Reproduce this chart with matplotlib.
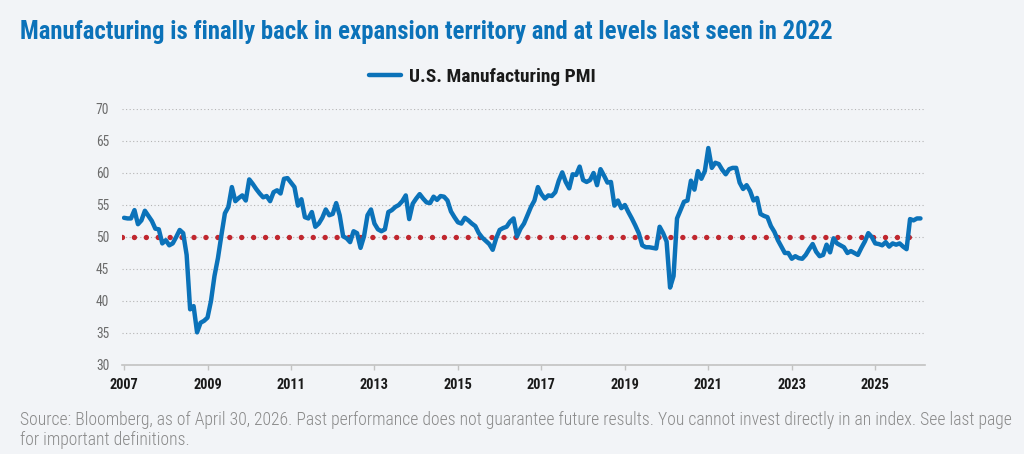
import matplotlib
matplotlib.use("Agg")
import matplotlib.pyplot as plt
from matplotlib import font_manager
import numpy as np

# monthly U.S. Manufacturing PMI
pmi = [
    53.0, 52.9, 52.9, 54.2, 52.0, 52.6, 54.1, 53.3, 52.5, 51.3,
    51.2, 49.0, 49.5, 48.7, 49.0, 50.0, 51.1, 50.6, 47.2, 38.7,
    39.2, 35.1, 36.6, 36.9, 37.4, 40.0, 43.9, 46.7, 50.3, 53.7,
    54.7, 57.8, 55.6, 56.1, 56.5, 55.7, 59.0, 58.3, 57.5, 56.8,
    56.2, 56.4, 55.6, 57.0, 57.3, 56.8, 59.1, 59.2, 58.5, 57.8,
    54.9, 55.9, 53.1, 52.9, 53.9, 51.6, 52.1, 53.0, 54.3, 53.4,
    53.6, 55.3, 53.4, 50.1, 49.8, 49.2, 50.9, 50.6, 48.3, 50.1,
    53.4, 54.3, 52.1, 51.2, 50.9, 51.2, 53.9, 54.2, 54.7, 55.0,
    55.6, 56.5, 52.8, 55.2, 56.0, 56.7, 56.0, 55.4, 55.3, 56.3,
    55.8, 56.4, 56.3, 55.7, 54.0, 53.1, 52.3, 52.1, 53.0, 52.6,
    52.1, 51.7, 50.6, 49.9, 49.4, 48.9, 48.0, 49.8, 51.1, 51.4,
    51.6, 52.4, 52.9, 50.1, 51.3, 52.1, 53.4, 54.7, 55.7, 57.8,
    56.7, 56.0, 56.5, 56.4, 57.0, 58.8, 60.1, 58.6, 57.6, 59.8,
    59.7, 61.0, 58.9, 58.6, 58.9, 60.0, 58.1, 60.6, 59.6, 58.5,
    58.6, 54.9, 55.7, 54.5, 55.0, 53.9, 52.9, 51.8, 50.6, 48.7,
    48.4, 48.4, 48.3, 48.2, 51.6, 50.6, 49.3, 42.1, 43.9, 52.9,
    54.2, 55.5, 55.7, 58.8, 57.4, 60.3, 59.1, 60.3, 63.9, 60.8,
    61.6, 61.4, 60.5, 59.8, 60.6, 60.8, 60.8, 58.5, 57.5, 58.1,
    57.2, 55.7, 56.1, 53.6, 53.3, 53.1, 51.7, 50.8, 49.5, 48.5,
    47.5, 47.5, 46.6, 47.0, 46.7, 46.6, 47.2, 48.1, 48.9, 47.7,
    47.0, 47.2, 48.8, 47.6, 49.8, 49.0, 48.7, 48.4, 47.5, 47.8,
    47.5, 47.2, 48.3, 49.3, 50.6, 50.0, 49.0, 48.9, 48.7, 49.2,
    48.5, 49.0, 48.8, 49.0, 48.5, 48.1, 52.8, 52.6, 52.9, 52.9,
]
year_labels = ["2007", "2009", "2011", "2013", "2015", "2017", "2019", "2021", "2023", "2025"]
year_ticks = [0, 24, 48, 72, 96, 120, 144, 168, 192, 216]
threshold = 50

title = "Manufacturing is finally back in expansion territory and at levels last seen in 2022"
series_name = "U.S. Manufacturing PMI"
footer = [
    "Source: Bloomberg, as of April 30, 2026. Past performance does not guarantee future results. "
    "You cannot invest directly in an index. See last page",
    "for important definitions.",
]

installed = {f.name for f in font_manager.fontManager.ttflist}
FONT = "Roboto Condensed" if "Roboto Condensed" in installed else "Roboto"
plt.rcParams["font.family"] = [FONT, "DejaVu Sans"]

BG = "#f2f4f7"
BLUE = "#0b72b9"
RED = "#c0272f"
W, H = 1024, 454

fig = plt.figure(figsize=(W / 100, H / 100), dpi=100, facecolor=BG)
ax = fig.add_axes([122.3 / W, 89 / H, (925 - 122.3) / W, 256 / H])
ax.set_facecolor(BG)

months = np.arange(len(pmi))
line, = ax.plot(months, pmi, color=BLUE, lw=3.2, solid_joinstyle="round",
                solid_capstyle="round", label=series_name, zorder=3)
ax.plot([-0.5, 228.5], [threshold, threshold], color=RED, lw=3.9,
        linestyle=(0, (0.001, 2.2)), dash_capstyle="round", zorder=2)

ax.set_xlim(-0.5, 230.3)
ax.set_ylim(30, 70)
ax.set_yticks(range(30, 71, 5))
ax.set_xticks(year_ticks, year_labels)
ax.yaxis.grid(True, color="#b4b4b4", lw=0.8, linestyle=(0, (1, 2.2)))
ax.set_axisbelow(True)

for s in ["top", "right", "left"]:
    ax.spines[s].set_visible(False)
ax.spines["bottom"].set_color("#c2c2c2")
ax.spines["bottom"].set_linewidth(1.2)
ax.spines["bottom"].set_zorder(4)

ax.tick_params(axis="x", length=3.6, width=1, color="#c2c2c2", pad=6,
               labelcolor="#1a1a1a", labelsize=11)
ax.tick_params(axis="y", length=0, pad=9.4, labelcolor="#6b6b6b", labelsize=10)
for lbl in ax.get_xticklabels():
    lbl.set_fontweight("bold")

renderer = fig.canvas.get_renderer()


def fit(txt, target):
    w = txt.get_window_extent(renderer).width
    txt.set_fontsize(txt.get_fontsize() * target / w)


# title and footer
t = fig.text(20 / W, 1 - 39 / H, title, color=BLUE, fontsize=19, fontweight="bold",
             ha="left", va="baseline")
fit(t, 815)
f1 = fig.text(20 / W, 1 - 425 / H, footer[0], color="#8a8a8a", fontsize=11,
              fontweight="light", ha="left", va="baseline")
fit(f1, 986)
fig.text(20 / W, 1 - 445 / H, footer[1], color="#8a8a8a", fontsize=f1.get_fontsize(),
         fontweight="light", ha="left", va="baseline")

# tick label sizes
fig.canvas.draw()
xl = ax.get_xticklabels()[0]
xs = xl.get_fontsize() * 29 / xl.get_window_extent(renderer).width
yl = ax.get_yticklabels()[-1]
ys = yl.get_fontsize() * 13.3 / yl.get_window_extent(renderer).width
ax.tick_params(axis="x", labelsize=xs)
ax.tick_params(axis="y", labelsize=ys)

# legend
probe = fig.text(0, 0, series_name, fontsize=12.5, fontweight="bold")
fit(probe, 187)
lsize = probe.get_fontsize()
probe.remove()
lpx = lsize * 100 / 72
leg = ax.legend(handles=[line], loc="center", bbox_to_anchor=(482.5 / W, 1 - 77 / H),
                bbox_transform=fig.transFigure, frameon=False,
                handlelength=32 / lpx, handletextpad=8 / lpx, borderpad=0,
                prop=dict(weight="bold", size=lsize))
for txt in leg.get_texts():
    txt.set_color("#1a1a1a")

fig.savefig("out.png", dpi=100, facecolor=BG)
